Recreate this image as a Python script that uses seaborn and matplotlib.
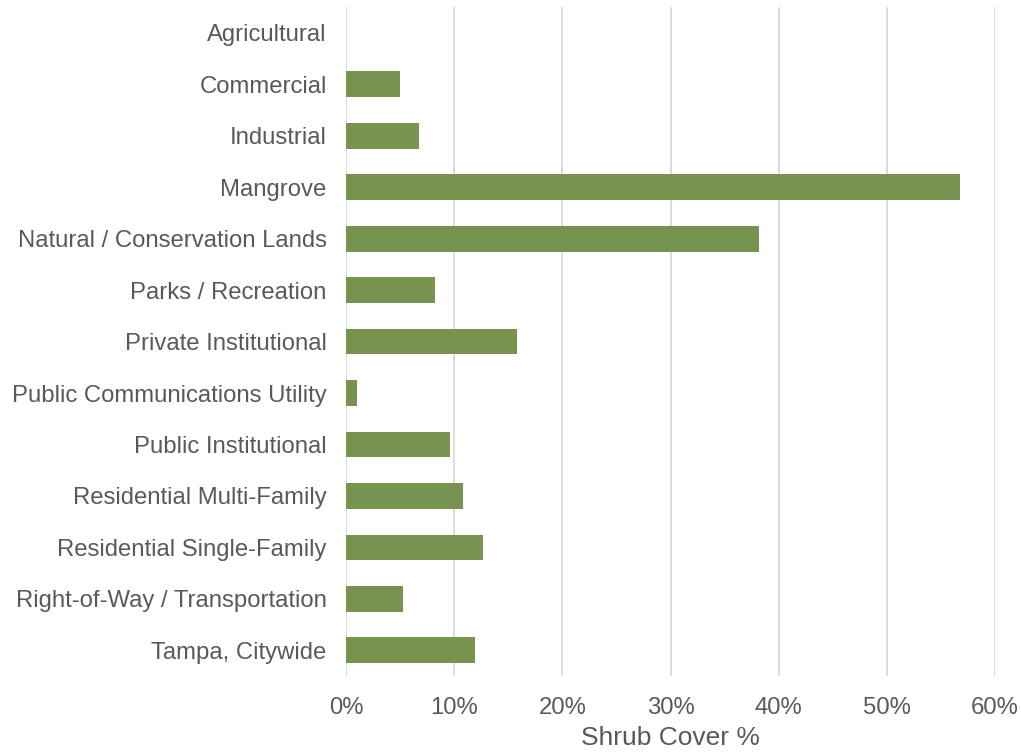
import matplotlib
matplotlib.use("Agg")
import matplotlib.pyplot as plt
from matplotlib.ticker import PercentFormatter
import seaborn as sns
import pandas as pd

# Shrub cover by land use (percent)
categories = [
    "Agricultural",
    "Commercial",
    "Industrial",
    "Mangrove",
    "Natural / Conservation Lands",
    "Parks / Recreation",
    "Private Institutional",
    "Public Communications Utility",
    "Public Institutional",
    "Residential Multi-Family",
    "Residential Single-Family",
    "Right-of-Way / Transportation",
    "Tampa, Citywide",
]
shrub_cover = [0.0, 5.0, 6.75, 56.8, 38.2, 8.2, 15.8, 1.0, 9.6, 10.8, 12.7, 5.3, 11.9]
x_ticks = [0, 10, 20, 30, 40, 50, 60]

df = pd.DataFrame({"Land Use": categories, "Shrub Cover": shrub_cover})

sns.set_theme(style="white")
plt.rcParams["font.family"] = ["Liberation Sans", "DejaVu Sans"]

text_color = "#595959"
bar_color = "#76934F"
grid_color = "#D9D9D9"

fig = plt.figure(figsize=(10.21, 7.55), dpi=100)
ax = fig.add_axes([0.339, 0.1046, 0.6355, 0.886])

sns.barplot(data=df, x="Shrub Cover", y="Land Use", order=categories,
            color=bar_color, saturation=1, width=0.5,
            linewidth=0, ax=ax)

ax.set_xlim(0, 60)
ax.set_xticks(x_ticks)
ax.xaxis.set_major_formatter(PercentFormatter(decimals=0))
ax.grid(axis="x", color=grid_color, linewidth=1.3)
ax.set_axisbelow(True)
for s in ax.spines.values():
    s.set_visible(False)

ax.tick_params(axis="both", length=0, labelsize=17.2, colors=text_color)
ax.tick_params(axis="y", pad=14)
ax.tick_params(axis="x", pad=15)
ax.set_ylabel("")
ax.set_xlabel("Shrub Cover %", fontsize=19, color=text_color, labelpad=5)

fig.savefig("out.png", dpi=100)
